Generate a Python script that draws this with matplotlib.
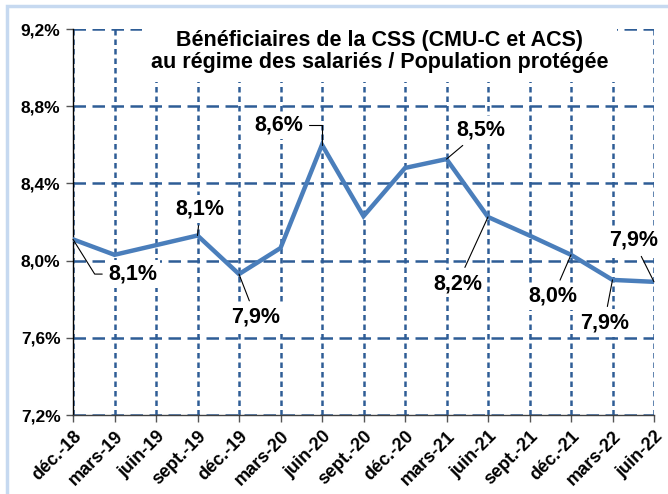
import matplotlib
matplotlib.use("Agg")
import matplotlib.pyplot as plt
from matplotlib.patches import Rectangle
from matplotlib.ticker import FuncFormatter

categories = ["déc.-18", "mars-19", "juin-19", "sept.-19", "déc.-19", "mars-20",
              "juin-20", "sept.-20", "déc.-20", "mars-21", "juin-21", "sept.-21",
              "déc.-21", "mars-22", "juin-22"]
values = [8.11, 8.03, 8.08, 8.13, 7.93, 8.065, 8.60, 8.23, 8.48, 8.526, 8.226,
          8.13, 8.03, 7.90, 7.89]
# indices of labelled points and their label offsets (points)
label_idx = [0, 3, 4, 6, 9, 10, 12, 13, 14]
label_off = [(43, -25), (2, 19), (12, -31), (-31, 14), (25, 21), (-22, -48),
             (-13, -30), (-6, -31), (-15, 30)]
label_conn = ["angle,angleA=0,angleB=-58,rad=0", "arc3", "arc3",
              "angle,angleA=0,angleB=90,rad=0", "arc3", "arc3", "arc3", "arc3", "arc3"]
yticks = [7.2, 7.6, 8.0, 8.4, 8.8, 9.2]

plt.rcParams['font.family'] = ['Liberation Sans', 'DejaVu Sans']
plt.rcParams['font.weight'] = 'bold'

fig = plt.figure(figsize=(6.68, 4.94), dpi=100)
ax = fig.add_axes([73/668, 1-415/494, (654-73)/668, (415-29)/494])

x = list(range(len(categories)))
ax.plot(x, values, color="#4a7ebb", lw=3.2, zorder=3, solid_joinstyle='miter')

ax.set_xlim(0, len(categories)-1)
ax.set_ylim(7.2, 9.2)
ax.set_yticks(yticks)
ax.yaxis.set_major_formatter(FuncFormatter(lambda v, p: f"{v:.1f}%".replace(".", ",")))
ax.set_xticks(x)
ax.set_xticklabels(categories, rotation=45, ha='right', rotation_mode='anchor',
                   fontsize=13, fontweight='bold')
for t in ax.get_yticklabels():
    t.set_fontsize(12.5)
    t.set_fontweight('bold')

gc = "#2e5d96"
ax.yaxis.grid(True, color=gc, lw=1.8, linestyle=(0, (5, 2.6)))
ax.xaxis.grid(True, color=gc, lw=1.8, linestyle=(0, (2.2, 1.6)))
ax.set_axisbelow(True)

for s in ["top", "right"]:
    ax.spines[s].set_visible(False)
ax.spines["left"].set_color("black")
ax.spines["left"].set_linewidth(1.0)
ax.spines["bottom"].set_color("#404040")
ax.spines["bottom"].set_linewidth(1.0)
ax.tick_params(axis='both', length=5, width=1, color="#555555", pad=4)

for i, (dx, dy), cs in zip(label_idx, label_off, label_conn):
    txt = f"{values[i]:.1f}%".replace(".", ",")
    ax.annotate(txt, xy=(x[i], values[i]), xytext=(dx, dy), textcoords='offset points',
                ha='center', va='center', fontsize=15.5, fontweight='bold', zorder=6,
                bbox=dict(boxstyle='square,pad=0.15', fc='white', ec='none'),
                arrowprops=dict(arrowstyle='-', color='black', lw=0.8,
                                shrinkA=2, shrinkB=0, connectionstyle=cs),
                annotation_clip=False)

ax.text(0.5275, 0.998, "Bénéficiaires de la CSS (CMU-C et ACS)\nau régime des salariés / Population protégée",
        transform=ax.transAxes, ha='center', va='top', fontsize=15.5, fontweight='bold',
        linespacing=1.08, zorder=7,
        bbox=dict(boxstyle='square,pad=0.4', fc='white', ec='none'))

fig.patches.append(Rectangle((7/668, -0.05), 1.1, 1-6/494+0.05, transform=fig.transFigure,
                             fill=False, ec="#c6d9f0", lw=2.5, zorder=0))

fig.savefig("out.png", dpi=100)
